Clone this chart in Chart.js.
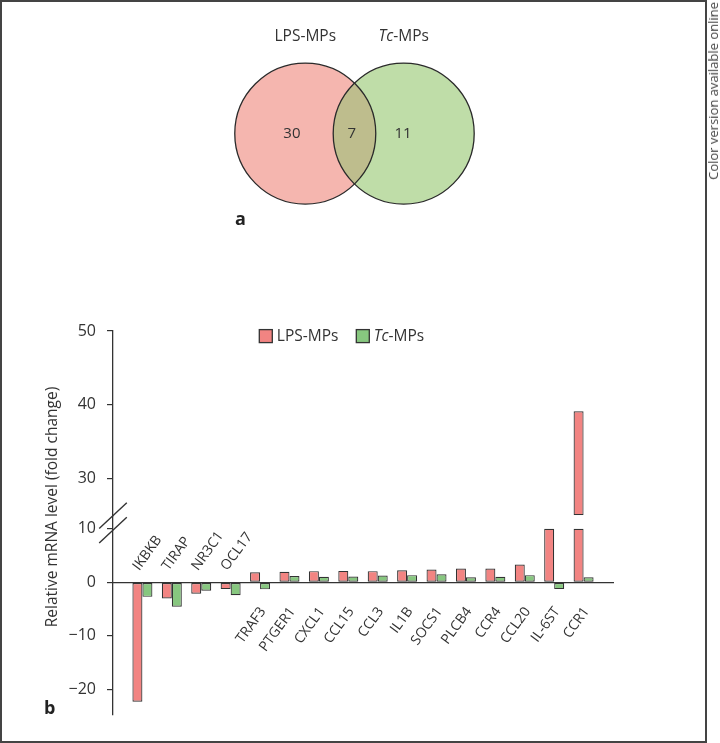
<!DOCTYPE html>
<html>
<head>
<meta charset="utf-8">
<script src="https://cdn.jsdelivr.net/npm/chart.js@4.4.1/dist/chart.umd.min.js"></script>
<style>
  body { margin: 0; background: #fff; font-family: 'Open Sans', sans-serif; }
  #frame { position: absolute; left: 0; top: 0; width: 707px; height: 743px; border: 2px solid #444; box-sizing: border-box; }
  canvas { position: absolute; left: 0; }
  #vennChart { top: 0; }
  #barChart { top: 250px; }
  .panel { position: absolute; font-weight: bold; font-size: 18px; line-height: 1; color: #222; }
  #note { position: absolute; left: 707px; top: 2px; writing-mode: vertical-rl; transform: rotate(180deg);
          font-size: 13px; line-height: 1; color: #444; white-space: nowrap; }
</style>
</head>
<body>
<div id="frame"></div>
<canvas id="vennChart" width="707" height="250"></canvas>
<canvas id="barChart" width="707" height="493"></canvas>
<div class="panel" style="left:235px; top:209px;">a</div>
<div class="panel" style="left:44px; top:698px;">b</div>
<div id="note">Color version available online</div>
<script>
// --- data ---
const vennSets = ['LPS-MPs', 'Tc-MPs'];
const vennOnly = [30, 11];
const vennShared = 7;

const genes = ['IKBKB', 'TIRAP', 'NR3C1', 'OCL17', 'TRAF3', 'PTGER1', 'CXCL1', 'CCL15',
               'CCL3', 'IL1B', 'SOCS1', 'PLCB4', 'CCR4', 'CCL20', 'IL-6ST', 'CCR1'];
const lpsFold = [-22.3, -3.0, -2.1, -1.25, 1.9, 2.0, 2.1, 2.15, 2.1, 2.25, 2.4, 2.6, 2.6, 3.35, 10, 39.1];
const tcFold  = [-2.7, -4.55, -1.55, -2.4, -1.3, 1.2, 1.05, 1.1, 1.3, 1.35, 1.5, 0.95, 1.05, 1.35, -1.25, 0.95];
const seriesNames = ['LPS-MPs', 'Tc-MPs'];
const yTitle = 'Relative mRNA level (fold change)';

// axis break: lower part stops at 10, upper part starts at 25
const lowerMax = 10;
const upperMin = 25;

const barColors = ['#F28482', '#87C77F'];
const vennColors = ['#F5B6AF', '#BFDDA8'];
const vennOverlap = '#BEBD8D';
const ink = '#333';
const FONT = "'Open Sans', sans-serif";

Chart.defaults.font.family = FONT;
Chart.defaults.font.size = 15;
Chart.defaults.color = ink;

// draw "Tc" in italics
function drawName(ctx, name, x, y, size, align) {
  const m = name.match(/^(Tc)(.*)$/);
  const parts = m ? [[m[1], 'italic '], [m[2], '']] : [[name, '']];
  let total = 0;
  parts.forEach(p => { ctx.font = p[1] + size + 'px ' + FONT; total += ctx.measureText(p[0]).width; });
  if (align === 'center') x -= total / 2;
  ctx.textAlign = 'left';
  parts.forEach(p => {
    ctx.font = p[1] + size + 'px ' + FONT;
    ctx.fillText(p[0], x, y);
    x += ctx.measureText(p[0]).width;
  });
}

// ---------- panel a: venn ----------
const VENN_OFFSET = 0.698;   // half distance between centres, in radii
const unitPx = (chart) => chart.scales.x.getPixelForValue(1) - chart.scales.x.getPixelForValue(0);

const vennPlugin = {
  id: 'vennDecor',
  afterDatasetsDraw(chart) {
    const ctx = chart.ctx;
    const pts = chart.getDatasetMeta(0).data;
    const r = unitPx(chart);
    ctx.save();
    // circles
    pts.forEach((p, i) => {
      ctx.beginPath(); ctx.arc(p.x, p.y, r, 0, Math.PI * 2);
      ctx.fillStyle = vennColors[i]; ctx.fill();
    });
    // overlap lens
    ctx.save();
    ctx.beginPath(); ctx.arc(pts[0].x, pts[0].y, r, 0, Math.PI * 2); ctx.clip();
    ctx.beginPath(); ctx.arc(pts[1].x, pts[1].y, r, 0, Math.PI * 2);
    ctx.fillStyle = vennOverlap; ctx.fill();
    ctx.restore();
    ctx.strokeStyle = '#2a2a2a'; ctx.lineWidth = 1.3;
    pts.forEach(p => { ctx.beginPath(); ctx.arc(p.x, p.y, r, 0, Math.PI * 2); ctx.stroke(); });
    // texts
    const sx = chart.scales.x, sy = chart.scales.y;
    ctx.fillStyle = ink; ctx.textBaseline = 'middle';
    vennSets.forEach((s, i) => {
      drawName(ctx, s, pts[i].x, sy.getPixelForValue(1.37), 15.5, 'center');
    });
    ctx.font = '15px ' + FONT; ctx.textAlign = 'center';
    ctx.fillText(String(vennOnly[0]), sx.getPixelForValue(-VENN_OFFSET - 0.19), pts[0].y);
    ctx.fillText(String(vennShared), sx.getPixelForValue(-0.04), pts[0].y);
    ctx.fillText(String(vennOnly[1]), sx.getPixelForValue(VENN_OFFSET - 0.01), pts[1].y);
    ctx.restore();
  }
};

new Chart(document.getElementById('vennChart'), {
  type: 'bubble',
  data: {
    datasets: [{
      data: vennSets.map((s, i) => ({ x: (i === 0 ? -1 : 1) * VENN_OFFSET, y: 0 })),
      backgroundColor: vennColors,
      borderColor: '#2a2a2a',
      borderWidth: 1.3,
      radius: (c) => unitPx(c.chart),
      clip: false
    }]
  },
  options: {
    responsive: false,
    animation: false,
    events: [],
    layout: { padding: 0 },
    plugins: { legend: { display: false }, tooltip: { enabled: false } },
    scales: {
      x: { display: false, min: -5.028, max: 5.0 },
      y: { display: false, min: -1.652, max: 1.894 }
    }
  },
  plugins: [vennPlugin]
});

// ---------- panel b: bars with broken axis ----------
const LABEL_ANGLE = 54 * Math.PI / 180;

const barPlugin = {
  id: 'barDecor',
  afterDraw(chart) {
    const { ctx, chartArea, scales } = chart;
    const zero = scales.yLow.getPixelForValue(0);
    ctx.save();
    ctx.fillStyle = ink;
    ctx.textBaseline = 'middle';
    // gene labels, slanted, above the line for down-regulated genes
    ctx.font = '14px ' + FONT;
    genes.forEach((g, i) => {
      const cx = scales.x.getPixelForValue(i + 1);
      const up = lpsFold[i] < 0;
      ctx.save();
      if (up) { ctx.translate(cx - 6.5, zero - 13.5); ctx.textAlign = 'left'; }
      else { ctx.translate(cx + 3, zero + 26.5); ctx.textAlign = 'right'; }
      ctx.rotate(-LABEL_ANGLE);
      ctx.fillText(g, 0, 0);
      ctx.restore();
    });
    // break marks
    const bx = chartArea.left, by = scales.yLow.top;
    ctx.strokeStyle = ink; ctx.lineWidth = 1.4;
    [0.5, 15].forEach(d => {
      ctx.beginPath();
      ctx.moveTo(bx - 13.8, by + d + 12.8);
      ctx.lineTo(bx + 13.8, by + d - 12.8);
      ctx.stroke();
    });
    // y title
    ctx.save();
    ctx.font = '15.5px ' + FONT;
    ctx.translate(53, (chartArea.top + chartArea.bottom) / 2 - 16);
    ctx.rotate(-Math.PI / 2);
    ctx.textAlign = 'center';
    ctx.fillText(yTitle, 0, 0);
    ctx.restore();
    // legend
    const lx = [chartArea.left + 146.3, chartArea.left + 243.3];
    const ly = chartArea.top - 1.4;
    seriesNames.forEach((n, i) => {
      ctx.fillStyle = barColors[i];
      ctx.fillRect(lx[i], ly, 13, 13);
      ctx.strokeStyle = ink; ctx.lineWidth = 1.3;
      ctx.strokeRect(lx[i], ly, 13, 13);
      ctx.fillStyle = ink;
      drawName(ctx, n, lx[i] + 17.5, ly + 7, 15.5, 'left');
    });
    ctx.restore();
  }
};

const yCommon = {
  type: 'linear',
  position: 'left',
  stack: 'y',
  stacked: false,
  grid: { drawOnChartArea: false, drawTicks: true, tickLength: 6, color: ink, lineWidth: 1.2 },
  border: { color: ink, width: 1.3 },
  ticks: {
    stepSize: 10,
    includeBounds: false,
    padding: 11,
    color: ink,
    font: { size: 16 },
    callback: v => String(v).replace('-', '\u2212')
  },
  afterFit: s => { s.width = 113; }
};

const barBase = { borderColor: ink, borderWidth: 1.2, borderSkipped: false,
                  categoryPercentage: 0.68, barPercentage: 1.0 };

new Chart(document.getElementById('barChart'), {
  type: 'bar',
  data: {
    datasets: [
      Object.assign({
        label: seriesNames[0], stack: 'lps', yAxisID: 'yLow', backgroundColor: barColors[0],
        data: genes.map((g, i) => ({ x: i + 1, y: Math.min(lpsFold[i], lowerMax) }))
      }, barBase),
      Object.assign({
        label: seriesNames[1], stack: 'tc', yAxisID: 'yLow', backgroundColor: barColors[1],
        data: genes.map((g, i) => ({ x: i + 1, y: Math.min(tcFold[i], lowerMax) }))
      }, barBase),
      // the part of LPS bars above the axis break
      Object.assign({
        label: seriesNames[0] + ' (upper)', stack: 'lps', yAxisID: 'yHigh', backgroundColor: barColors[0],
        data: genes.map((g, i) => ({ x: i + 1, v: lpsFold[i] }))
                   .filter(d => d.v > upperMin)
                   .map(d => ({ x: d.x, y: [upperMin, d.v] }))
      }, barBase)
    ]
  },
  options: {
    responsive: false,
    animation: false,
    events: [],
    layout: { padding: { left: 0, top: 81, right: 94, bottom: 28 } },
    plugins: { legend: { display: false }, tooltip: { enabled: false } },
    scales: {
      x: {
        type: 'linear',
        offset: false,
        min: 0, max: genes.length + 1,
        position: { yLow: 0 },
        ticks: { display: false, stepSize: 1 },
        grid: { display: false, offset: false },
        border: { color: ink, width: 1.3 }
      },
      yLow: Object.assign({}, yCommon, { min: -24.77, max: 12.56, stackWeight: 200 }),
      yHigh: Object.assign({}, yCommon, { min: upperMin, max: 50, stackWeight: 184.3 })
    }
  },
  plugins: [barPlugin]
});
</script>
</body>
</html>
